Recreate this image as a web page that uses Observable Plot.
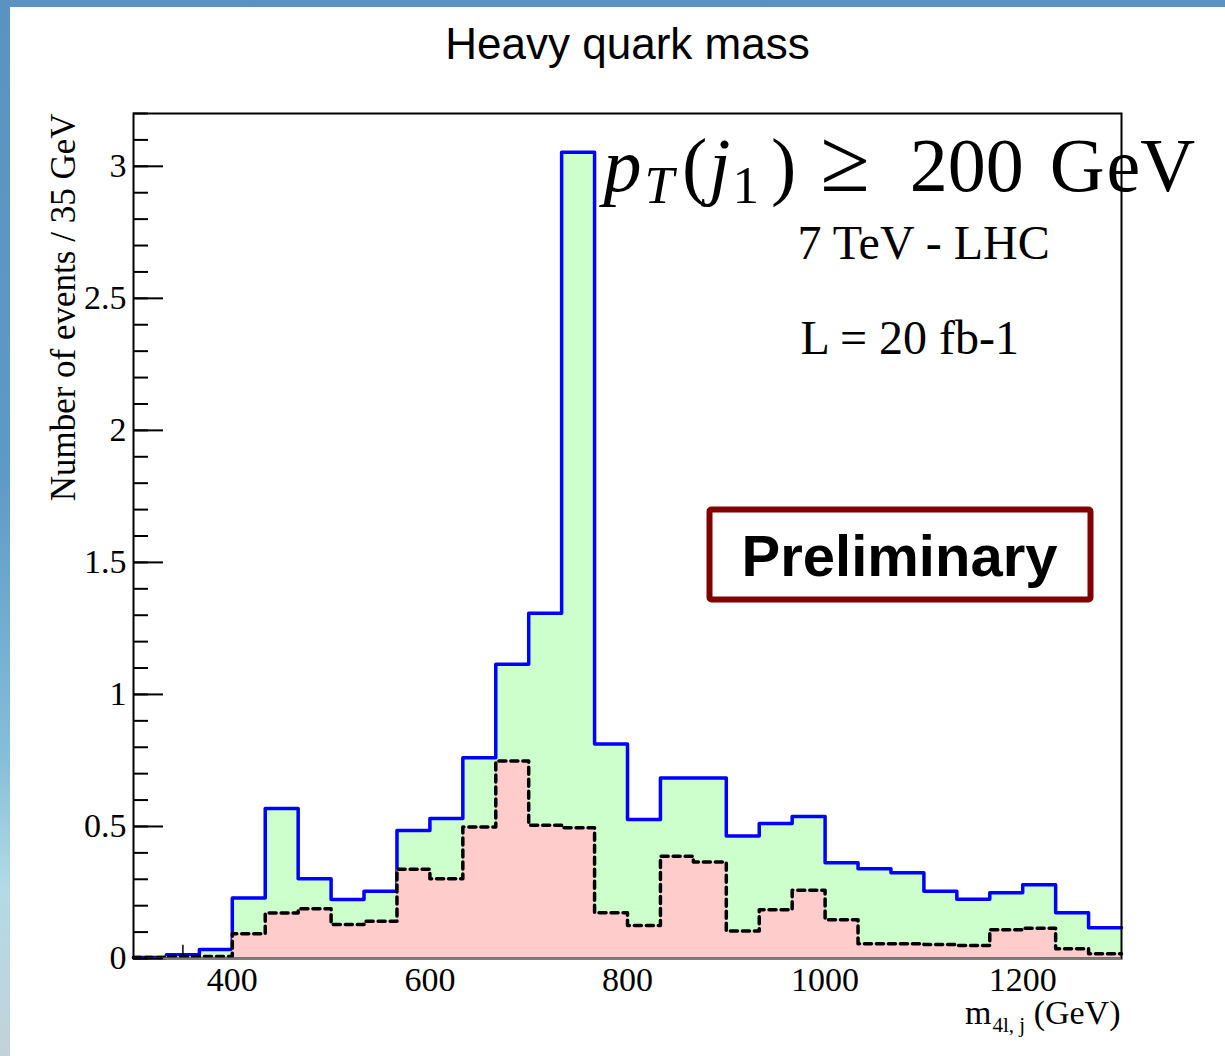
<!DOCTYPE html>
<html>
<head>
<meta charset="utf-8">
<script src="https://cdn.jsdelivr.net/npm/d3@7"></script>
<script src="https://cdn.jsdelivr.net/npm/@observablehq/plot@0.6"></script>
<style>
  html, body { margin: 0; padding: 0; background: #fff; }
  #slide {
    position: relative; width: 1225px; height: 1056px; overflow: hidden;
    background: linear-gradient(180deg, #5a93c1 0%, #5d9ac6 45%, #86bfd8 72%, #b2dae6 84%, #c3d2d8 100%);
  }
  #panel { position: absolute; left: 10px; top: 7px; right: 0; bottom: 0; background: #fff; }
  #chart { position: absolute; left: 0; top: 0; }
</style>
</head>
<body>
<div id="slide"><div id="panel"></div><div id="chart"></div></div>
<script>
// Binning of the m(4l, j) histogram: 30 bins from 300 to 1300 GeV
const binLow = 300;
const binHigh = 1300;
const nBins = 30;

// Events per bin: signal + background (blue outline, green fill)
const total = [0.004, 0.014, 0.034, 0.229, 0.568, 0.302, 0.223, 0.255, 0.485, 0.530,
               0.760, 1.114, 1.307, 3.053, 0.812, 0.526, 0.684, 0.684, 0.464, 0.511,
               0.538, 0.363, 0.340, 0.325, 0.255, 0.224, 0.249, 0.279, 0.173, 0.116];

// Events per bin: background only (dashed outline, pink fill)
const background = [0.004, 0.008, 0.008, 0.094, 0.172, 0.188, 0.129, 0.141, 0.338, 0.302,
                    0.498, 0.748, 0.505, 0.495, 0.173, 0.125, 0.387, 0.365, 0.104, 0.185,
                    0.258, 0.147, 0.056, 0.056, 0.053, 0.049, 0.109, 0.115, 0.037, 0.018];

// Lone error bar drawn near the low edge
const errorBars = [{mass: 350, lo: 0, hi: 0.05}];

// Axis ticks
const xTickLabels = [400, 600, 800, 1000, 1200];
const yMajorTicks = [0, 0.5, 1, 1.5, 2, 2.5, 3];
const yMinorTicks = d3.range(0, 33).map(i => i / 10);

// Texts
const titleText = "Heavy quark mass";
const yLabel = "Number of events / 35 GeV";
const xLabel = "m4l, j (GeV)";
const cutText = "pT(j1) ≥ 200 GeV";
const energyText = "7 TeV - LHC";
const lumiText = "L = 20 fb-1";
const stampText = "Preliminary";

// Step-histogram rows: one row per bin edge, last bin repeated at the upper edge
const width = (binHigh - binLow) / nBins;
const rows = d3.range(nBins + 1).map(i => ({
  mass: binLow + i * width,
  total: total[Math.min(i, nBins - 1)],
  background: background[Math.min(i, nBins - 1)]
}));

const W = 1225, H = 1056;
const margin = {top: 113, right: 104, bottom: 98, left: 133};
const frameW = W - margin.left - margin.right;

const serif = "'Liberation Serif', 'Times New Roman', serif";
const sans = "'Liberation Sans', Arial, Helvetica, sans-serif";

const chart = Plot.plot({
  width: W,
  height: H,
  marginTop: margin.top,
  marginRight: margin.right,
  marginBottom: margin.bottom,
  marginLeft: margin.left,
  style: {background: "transparent", fontFamily: serif, fontSize: "34px", color: "black", overflow: "visible"},
  x: {domain: [binLow, binHigh]},
  y: {domain: [0, 3.2]},
  marks: [
    // signal + background
    Plot.areaY(rows, {x: "mass", y: "total", curve: "step-after", fill: "#ccffcc"}),
    Plot.lineY(rows, {x: "mass", y: "total", curve: "step-after", stroke: "#0000ff", strokeWidth: 3.5}),
    // background only
    Plot.areaY(rows, {x: "mass", y: "background", curve: "step-after", fill: "#ffcccc"}),
    Plot.lineY(rows, {x: "mass", y: "background", curve: "step-after", stroke: "black", strokeWidth: 3.5, strokeDasharray: "7,5"}),
    Plot.ruleX(errorBars, {x: "mass", y1: "lo", y2: "hi", stroke: "black", strokeWidth: 1.5}),

    // annotations
    Plot.text([cutText], {text: d => d, frameAnchor: "top-left", dx: 470, dy: 77, textAnchor: "start", lineAnchor: "bottom", fontSize: 76, fontFamily: serif}),
    Plot.text([energyText], {text: d => d, frameAnchor: "top-left", dx: 664, dy: 145, textAnchor: "start", lineAnchor: "bottom", fontSize: 48, fontFamily: serif}),
    Plot.text([lumiText], {text: d => d, frameAnchor: "top-left", dx: 667, dy: 240, textAnchor: "start", lineAnchor: "bottom", fontSize: 48, fontFamily: serif}),
    Plot.frame({fill: "white", stroke: "#800000", strokeWidth: 6, rx: 2,
                insetLeft: 576, insetRight: 31, insetTop: 396, insetBottom: 359}),
    Plot.text([stampText], {text: d => d, frameAnchor: "top-left", dx: 766, dy: 462, textAnchor: "middle", lineAnchor: "bottom", fontSize: 58, fontWeight: "bold", fontFamily: sans}),

    // frame and axes
    Plot.frame({stroke: "black", strokeWidth: 2}),
    Plot.ruleY([0], {stroke: "#7a7a7a", strokeWidth: 2}),
    Plot.tickY(yMinorTicks, {y: d => d, stroke: "black", strokeWidth: 2, insetRight: frameW - 15}),
    Plot.tickY(yMajorTicks, {y: d => d, stroke: "black", strokeWidth: 2, insetRight: frameW - 30}),
    Plot.axisY({ticks: yMajorTicks, tickSize: 0, tickPadding: 7, tickFormat: d => String(d), label: null, fontSize: 34}),
    Plot.axisX({ticks: xTickLabels, tickSize: 0, tickPadding: 8, tickFormat: d => String(d), label: null, fontSize: 34}),

    // titles
    Plot.text([titleText], {text: d => d, frameAnchor: "top", dy: -55, lineAnchor: "bottom", fontSize: 44, fontFamily: sans}),
    Plot.text([yLabel], {text: d => d, frameAnchor: "top-left", rotate: -90, textAnchor: "end", lineAnchor: "middle", dx: -70, dy: 0, fontSize: 35, fontFamily: serif}),
    Plot.text([xLabel], {text: d => d, frameAnchor: "bottom-right", textAnchor: "end", lineAnchor: "bottom", dx: -1, dy: 65, fontSize: 34, fontFamily: serif})
  ]
});

// Rebuild texts that need italics and subscripts
function richText(content, parts) {
  const node = Array.from(chart.querySelectorAll("text")).find(t => t.textContent === content);
  if (!node) return;
  const t = d3.select(node);
  t.text(null);
  for (const p of parts) {
    const s = t.append("tspan").text(p.text);
    if (p.italic) s.attr("font-style", "italic");
    if (p.size) s.attr("font-size", p.size);
    if (p.dx) s.attr("dx", p.dx);
    if (p.dy) s.attr("dy", p.dy);
  }
}

richText(cutText, [
  {text: "p", italic: true},
  {text: "T", italic: true, size: 53, dx: 3, dy: 12},
  {text: "(", size: 76, dx: 8, dy: -12},
  {text: "j", italic: true, dx: 2},
  {text: "1", size: 53, dx: 2, dy: 12},
  {text: ")", size: 76, dx: 12, dy: -12},
  {text: "≥", size: 90, dx: 24},
  {text: "200", size: 76, dx: 40},
  {text: "G", dx: 26},
  {text: "eV", dx: 2}
]);

richText(xLabel, [
  {text: "m"},
  {text: "4l, j", size: 21, dx: 1, dy: 8},
  {text: " (GeV)", size: 34, dy: -8}
]);

document.getElementById("chart").appendChild(chart);
</script>
</body>
</html>
